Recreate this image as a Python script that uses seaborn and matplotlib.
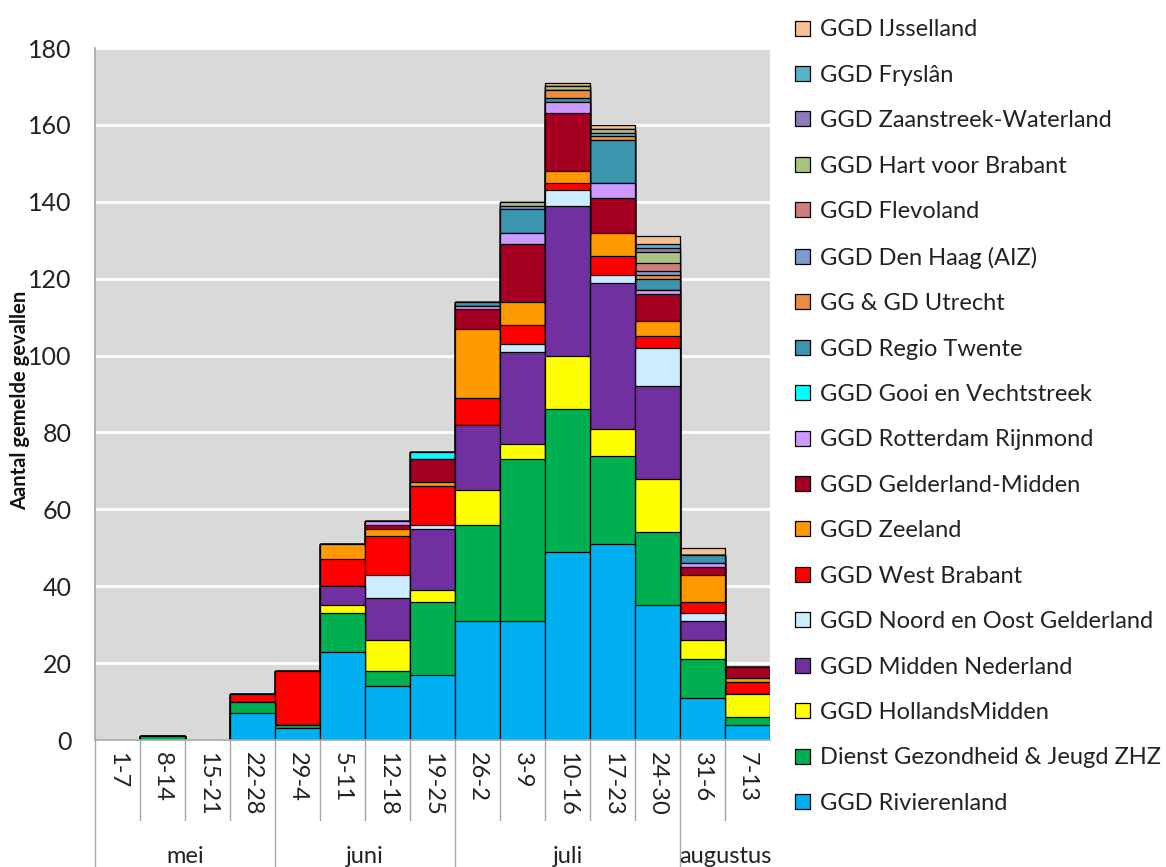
import numpy as np
import pandas as pd
import matplotlib
matplotlib.use("Agg")
import matplotlib.pyplot as plt
import seaborn as sns

# --- data (bottom of stack first) ---
weeks = ['1-7', '8-14', '15-21', '22-28', '29-4', '5-11', '12-18', '19-25',
         '26-2', '3-9', '10-16', '17-23', '24-30', '31-6', '7-13']
months = ['mei', 'juni', 'juli', 'augustus']
month_sizes = [4, 4, 5, 2]

rivierenland = [0, 0, 0, 7, 3, 23, 14, 17, 31, 31, 49, 51, 35, 11, 4]
dienst_zhz = [0, 1, 0, 3, 1, 10, 4, 19, 25, 42, 37, 23, 19, 10, 2]
hollands_midden = [0, 0, 0, 0, 0, 2, 8, 3, 9, 4, 14, 7, 14, 5, 6]
midden_nederland = [0, 0, 0, 0, 0, 5, 11, 16, 17, 24, 39, 38, 24, 5, 0]
noord_oost_gelderland = [0, 0, 0, 0, 0, 0, 6, 1, 0, 2, 4, 2, 10, 2, 0]
west_brabant = [0, 0, 0, 2, 14, 7, 10, 10, 7, 5, 2, 5, 3, 3, 3]
zeeland = [0, 0, 0, 0, 0, 4, 2, 1, 18, 6, 3, 6, 4, 7, 1]
gelderland_midden = [0, 0, 0, 0, 0, 0, 1, 6, 5, 15, 15, 9, 7, 2, 3]
rotterdam = [0, 0, 0, 0, 0, 0, 1, 0, 1, 3, 3, 4, 1, 1, 0]
gooi = [0, 0, 0, 0, 0, 0, 0, 2, 0, 0, 0, 0, 0, 0, 0]
twente = [0, 0, 0, 0, 0, 0, 0, 0, 1, 6, 1, 11, 3, 2, 0]
utrecht = [0, 0, 0, 0, 0, 0, 0, 0, 0, 0, 2, 1, 1, 0, 0]
den_haag = [0, 0, 0, 0, 0, 0, 0, 0, 0, 1, 0, 1, 1, 0, 0]
flevoland = [0, 0, 0, 0, 0, 0, 0, 0, 0, 0, 0, 0, 2, 0, 0]
hart_brabant = [0, 0, 0, 0, 0, 0, 0, 0, 0, 1, 1, 1, 3, 0, 0]
zaanstreek = [0, 0, 0, 0, 0, 0, 0, 0, 0, 0, 0, 0, 1, 0, 0]
fryslan = [0, 0, 0, 0, 0, 0, 0, 0, 0, 0, 0, 0, 1, 0, 0]
ijsselland = [0, 0, 0, 0, 0, 0, 0, 0, 0, 0, 1, 1, 2, 2, 0]

series = [
    ('GGD Rivierenland', rivierenland, '#00B0F0'),
    ('Dienst Gezondheid & Jeugd ZHZ', dienst_zhz, '#00B050'),
    ('GGD HollandsMidden', hollands_midden, '#FFFF00'),
    ('GGD Midden Nederland', midden_nederland, '#7030A0'),
    ('GGD Noord en Oost Gelderland', noord_oost_gelderland, '#CCECFF'),
    ('GGD West Brabant', west_brabant, '#FF0000'),
    ('GGD Zeeland', zeeland, '#FF9900'),
    ('GGD Gelderland-Midden', gelderland_midden, '#A50021'),
    ('GGD Rotterdam Rijnmond', rotterdam, '#CC99FF'),
    ('GGD Gooi en Vechtstreek', gooi, '#00FFFF'),
    ('GGD Regio Twente', twente, '#3A95AD'),
    ('GG & GD Utrecht', utrecht, '#EE8C3E'),
    ('GGD Den Haag (AIZ)', den_haag, '#7D9BCF'),
    ('GGD Flevoland', flevoland, '#D27D7D'),
    ('GGD Hart voor Brabant', hart_brabant, '#A9C47F'),
    ('GGD Zaanstreek-Waterland', zaanstreek, '#8C7BB8'),
    ('GGD Fryslân', fryslan, '#56B3CC'),
    ('GGD IJsselland', ijsselland, '#FABF8F'),
]

sns.set_theme(style='white')
plt.rcParams['font.family'] = ['Lato', 'DejaVu Sans']

fig = plt.figure(figsize=(11.66, 8.67), dpi=100)
ax = fig.add_axes([95 / 1166, 1 - 740 / 867, 675 / 1166, 692 / 867])
ax.set_facecolor('#D9D9D9')

# cumulative heights, drawn from the top layer down so lower layers cover upper ones
cum = np.cumsum(np.array([s[1] for s in series], dtype=float), axis=0)
for i in range(len(series) - 1, -1, -1):
    name, _, color = series[i]
    heights = cum[i].copy()
    heights[heights == 0] = np.nan
    df = pd.DataFrame({'week': weeks, 'n': heights})
    sns.barplot(data=df, x='week', y='n', order=weeks, color=color, label=name,
                width=1.0, edgecolor='black', linewidth=0.9, errorbar=None,
                saturation=1, ax=ax)

ax.set_xlim(-0.5, 14.5)
ax.set_ylim(0, 180)
ax.set_yticks(range(0, 181, 20))
ax.yaxis.grid(True, color='white', linewidth=2)
ax.set_axisbelow(True)
for side in ['top', 'right']:
    ax.spines[side].set_visible(False)
for side in ['left', 'bottom']:
    ax.spines[side].set_color('#A6A6A6')
    ax.spines[side].set_linewidth(1.2)
ax.tick_params(axis='y', labelsize=18, length=5, color='#A6A6A6', pad=12,
               labelcolor='#222222')
ax.set_xticks(range(len(weeks)))
ax.set_xticklabels(weeks, rotation=270, fontsize=17, color='#222222')
ax.tick_params(axis='x', length=0, pad=9)
ax.set_xlabel('')
ax.set_ylabel('')
fig.text(20 / 1166, 1 - 400 / 867, 'Aantal gemelde gevallen', rotation=90,
         ha='center', va='center', fontsize=14.5, fontweight='bold', color='#111111')

# category separators and month grouping below the axis
trans = ax.get_xaxis_transform()
bounds = np.cumsum([0] + month_sizes) - 0.5
for k in range(1, len(weeks)):
    x = k - 0.5
    low = -0.1835 if x in bounds else -0.1156
    ax.plot([x, x], [0, low], transform=trans, clip_on=False, color='#A6A6A6', lw=1)
ax.plot([-0.5, -0.5], [0, -0.1835], transform=trans, clip_on=False, color='#A6A6A6', lw=1)
for j, m in enumerate(months):
    xc = (bounds[j] + bounds[j + 1]) / 2
    ax.text(xc, -0.168, m, transform=trans, ha='center', va='center',
            fontsize=17, color='#222222')

handles, labels = ax.get_legend_handles_labels()
leg = ax.legend(handles, labels, loc='upper left', bbox_to_anchor=(0.67, 0.994),
                bbox_transform=fig.transFigure, frameon=False, fontsize=17,
                handlelength=0.6, handleheight=0.6, handletextpad=0.45,
                labelspacing=1.035, borderaxespad=0.2)
for t in leg.get_texts():
    t.set_color('#222222')

fig.savefig('out.png', dpi=100)
